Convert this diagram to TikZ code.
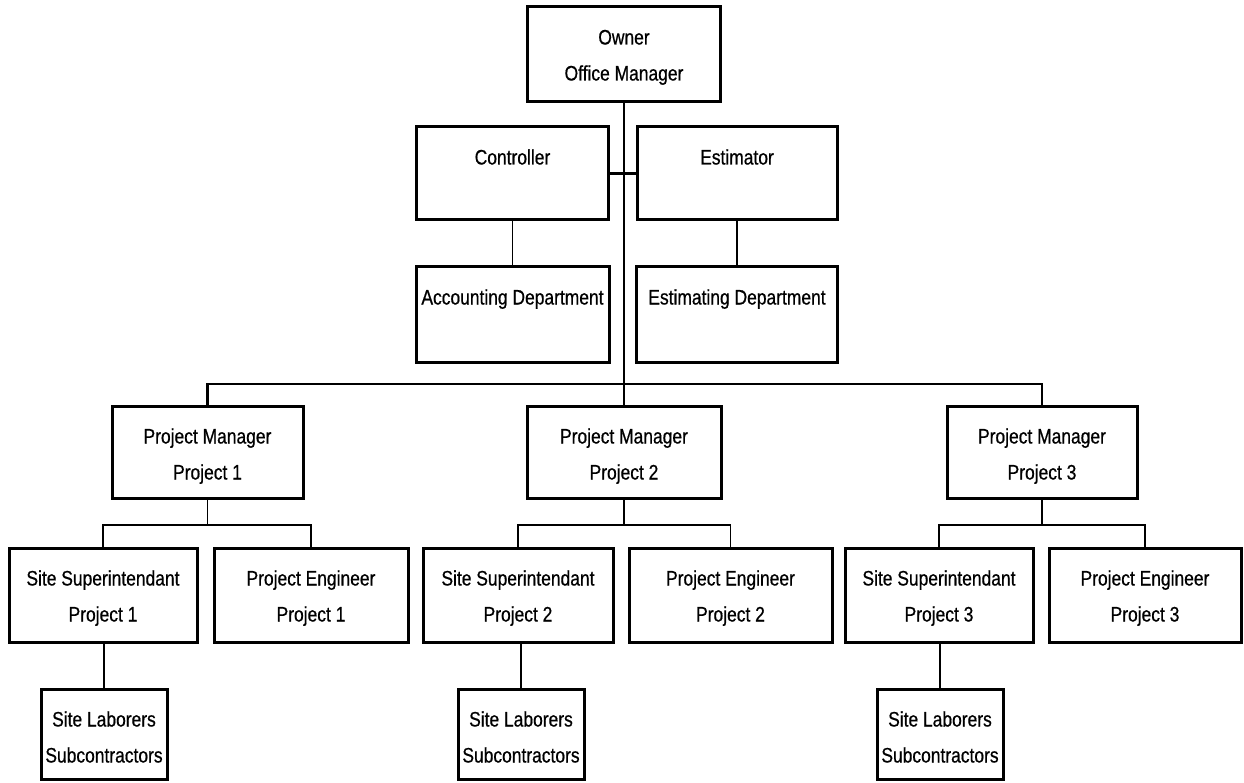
\documentclass[tikz,border=0pt]{standalone}
\usepackage{fontspec}
\setmainfont{Liberation Sans}[FakeStretch=0.83,FakeBold=0.6]
\newcommand{\bx}[3]{\parbox[c][#2pt][t]{#1pt}{\centering\fontsize{21}{36}\selectfont\rule{0pt}{37.5pt}#3}}
\tikzset{
  box/.style={draw=black, line width=3pt, inner sep=0pt, fill=white},
  conn/.style={draw=black, line width=1.8pt},
  bus/.style={draw=black, line width=2.8pt},
}
\begin{document}
\begin{tikzpicture}[x=1pt,y=-1pt]
\useasboundingbox[fill=white] (0,0) rectangle (1244,783);
\coordinate (row1) at (0,384);
\coordinate (row2) at (0,525);
\node[box] (owner) at (624,54.5) {\bx{193}{95}{Owner\\Office Manager}};
\node[box] (ctrl) at (512.5,173.5) {\bx{192}{93}{Controller}};
\node[box] (est) at (737,173.5) {\bx{200}{93}{Estimator}};
\node[box] (acc) at (512.5,314.5) {\bx{193}{95}{Accounting Department}};
\node[box] (estd) at (737,314.5) {\bx{201}{95}{Estimating Department}};
\node[box] (pm1) at (207.5,452) {\bx{191}{92}{Project Manager\\Project 1}};
\node[box] (pm2) at (624,452) {\bx{194}{92}{Project Manager\\Project 2}};
\node[box] (pm3) at (1042,452) {\bx{190}{92}{Project Manager\\Project 3}};
\node[box] (ss1) at (103,595) {\bx{188}{94}{Site Superintendant\\Project 1}};
\node[box] (pe1) at (311,595) {\bx{194}{94}{Project Engineer\\Project 1}};
\node[box] (ss2) at (518,595) {\bx{190}{94}{Site Superintendant\\Project 2}};
\node[box] (pe2) at (730.5,595) {\bx{203}{94}{Project Engineer\\Project 2}};
\node[box] (ss3) at (939,595) {\bx{188}{94}{Site Superintendant\\Project 3}};
\node[box] (pe3) at (1145,595) {\bx{192}{94}{Project Engineer\\Project 3}};
\node[box] (lab1) at (104,734) {\bx{126}{90}{Site Laborers\\Subcontractors}};
\node[box] (lab2) at (521,734) {\bx{126}{90}{Site Laborers\\Subcontractors}};
\node[box] (lab3) at (940,734) {\bx{126}{90}{Site Laborers\\Subcontractors}};
% main trunk
\draw[conn] (owner.south) -- (pm2.north);
\draw[bus] (ctrl.east) -- (est.west);
\draw[conn] (acc.north) -- (acc.north |- ctrl.south);
\draw[conn] (estd.north) -- (estd.north |- est.south);
\draw[bus] (pm1.north) -- (pm1.north |- row1) -- (pm3.north |- row1) -- (pm3.north);
% project 1
\draw[conn] (pm1.south) -- (pm1.south |- row2);
\draw[conn] (ss1.north) -- (ss1.north |- row2) -- (pe1.north |- row2) -- (pe1.north);
\draw[conn] (lab1.north) -- (lab1.north |- ss1.south);
% project 2
\draw[conn] (pm2.south) -- (pm2.south |- row2);
\draw[conn] (ss2.north) -- (ss2.north |- row2) -- (pe2.north |- row2) -- (pe2.north);
\draw[conn] (lab2.north) -- (lab2.north |- ss2.south);
% project 3
\draw[conn] (pm3.south) -- (pm3.south |- row2);
\draw[conn] (ss3.north) -- (ss3.north |- row2) -- (pe3.north |- row2) -- (pe3.north);
\draw[conn] (lab3.north) -- (lab3.north |- ss3.south);
\end{tikzpicture}
\end{document}
